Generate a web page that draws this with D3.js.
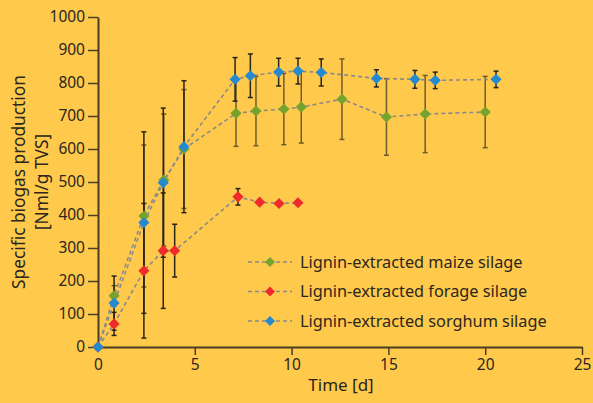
<!DOCTYPE html>
<html><head><meta charset="utf-8">
<script src="https://cdn.jsdelivr.net/npm/d3@7"></script>
<style>body{margin:0;background:#FFC94B;} svg{display:block;font-family:"Noto Sans","Open Sans",sans-serif;}</style>
</head><body>
<script>
const seriesNames = ["Lignin-extracted maize silage","Lignin-extracted forage silage","Lignin-extracted sorghum silage"];
const seriesColors = ["#76a22e","#ee2a2a","#2589d0"];
const errColors = ["#6e5c2c","#2a2418","#2a2418"];

const maizeT   = [0, 0.83, 2.37, 3.4, 4.44, 7.13, 8.16, 9.6, 10.5, 12.6, 14.9, 16.9, 20.0];
const maizeV   = [0, 155, 397, 506, 600, 708, 715, 721, 727, 751, 697, 706, 712];
const maizeE   = [0, 31, 215, 200, 180, 100, 105, 108, 109, 122, 116, 117, 108];

const forageT  = [0, 0.83, 2.37, 3.37, 3.96, 7.23, 8.35, 9.35, 10.33];
const forageV  = [0, 70, 231, 292, 292, 455, 439, 435, 437];
const forageE  = [0, 35, 204, 175, 80, 25, 0, 0, 0];

const sorghumT = [0, 0.83, 2.37, 3.37, 4.44, 7.08, 7.87, 9.33, 10.33, 11.53, 14.38, 16.37, 17.42, 20.56];
const sorghumV = [0, 133, 377, 498, 607, 811, 822, 833, 836, 832, 814, 811, 808, 811];
const sorghumE = [0, 82, 275, 226, 200, 66, 66, 42, 39, 41, 26, 27, 25, 25];

const xTicks = [0,5,10,15,20,25];
const yTicks = [0,100,200,300,400,500,600,700,800,900,1000];

const series = [
  {t:maizeT, v:maizeV, e:maizeE},
  {t:forageT, v:forageV, e:forageE},
  {t:sorghumT, v:sorghumV, e:sorghumE}
];

const W=593,H=403;
const svg=d3.select("body").append("svg").attr("width",W).attr("height",H);
svg.append("rect").attr("width",W).attr("height",H).attr("fill","#FFC94B");

const x=d3.scaleLinear().domain([0,25]).range([98,582]);
const y=d3.scaleLinear().domain([0,1000]).range([347,17]);

const axisCol="#4a3e22", textCol="#2b2620";

// axes
const gx=svg.append("g").attr("transform","translate(0,347)")
  .call(d3.axisBottom(x).tickValues(xTicks).tickFormat(d3.format("d")).tickSize(8).tickSizeOuter(0).tickPadding(4));
const gy=svg.append("g").attr("transform","translate(98,0)")
  .call(d3.axisLeft(y).tickValues(yTicks).tickFormat(d3.format("d")).tickSize(10).tickSizeOuter(0).tickPadding(3));
[gx,gy].forEach(g=>{
  g.select(".domain").attr("stroke",axisCol).attr("stroke-width",2);
  g.selectAll(".tick line").attr("stroke",axisCol).attr("stroke-width",1.5);
  g.selectAll(".tick text").attr("fill",textCol).attr("font-size",15.5).attr("font-family","Noto Sans, sans-serif");
});
gx.selectAll(".tick").filter(d=>d===0).select("line").remove();

svg.append("text").attr("x",341).attr("y",391).attr("text-anchor","middle")
  .attr("fill",textCol).attr("font-size",17).text("Time [d]");
const yt=svg.append("text").attr("transform","translate(25,"+((17+347)/2)+") rotate(-90)")
  .attr("text-anchor","middle").attr("fill",textCol).attr("font-size",17.3);
yt.append("tspan").attr("x",0).attr("dy",0).text("Specific biogas production");
yt.append("tspan").attr("x",0).attr("dy",23).text("[Nml/g TVS]");

const line=d3.line().x(d=>x(d[0])).y(d=>y(d[1]));
const diamond=d3.symbol().type(d3.symbolSquare).size(62);

// error bars
series.forEach((s,i)=>{
  const g=svg.append("g");
  s.t.forEach((t,j)=>{
    const e=s.e[j]; if(!e) return;
    const cx=x(t), y1=y(s.v[j]+e), y2=y(s.v[j]-e);
    g.append("line").attr("x1",cx).attr("x2",cx).attr("y1",y1).attr("y2",y2)
      .attr("stroke",errColors[i]).attr("stroke-width",1.5);
    [y1,y2].forEach(yy=>g.append("line").attr("x1",cx-2.5).attr("x2",cx+2.5).attr("y1",yy).attr("y2",yy)
      .attr("stroke",errColors[i]).attr("stroke-width",1.5));
  });
});
// lines
series.forEach((s,i)=>{
  svg.append("path").attr("d",line(s.t.map((t,j)=>[t,s.v[j]])))
    .attr("fill","none").attr("stroke","#8a8a8a").attr("stroke-width",1.6).attr("stroke-dasharray","4,3");
});
// markers
[0,1,2].forEach(i=>{
  const s=series[i];
  svg.append("g").selectAll("path").data(s.t.map((t,j)=>[t,s.v[j]])).join("path")
    .attr("d",diamond).attr("transform",d=>`translate(${x(d[0])},${y(d[1])}) rotate(45)`)
    .attr("fill",seriesColors[i]);
});

// legend
const lg=svg.append("g");
seriesNames.forEach((n,i)=>{
  const yy=262+i*29.5;
  lg.append("line").attr("x1",248).attr("x2",292).attr("y1",yy).attr("y2",yy)
    .attr("stroke","#8a8a8a").attr("stroke-width",1.4).attr("stroke-dasharray","4,3");
  lg.append("path").attr("d",d3.symbol().type(d3.symbolSquare).size(50))
    .attr("transform",`translate(270,${yy}) rotate(45)`).attr("fill",seriesColors[i]);
  lg.append("text").attr("x",300).attr("y",yy+5.5).attr("fill",textCol).attr("font-size",16.3).text(n);
});
</script>
</body></html>
